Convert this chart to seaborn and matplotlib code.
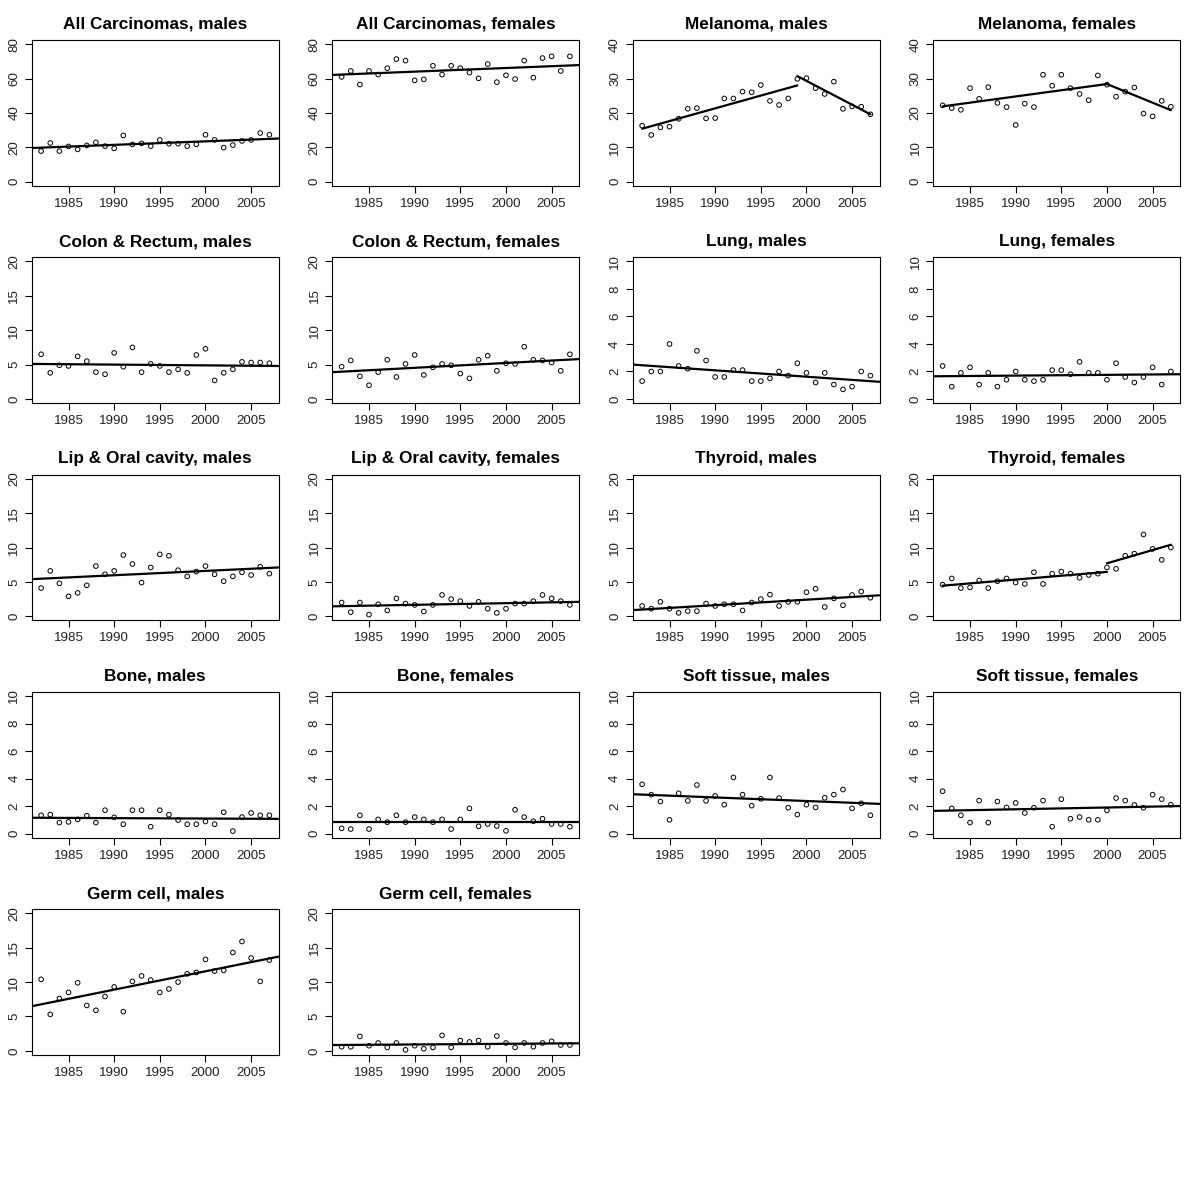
import matplotlib
matplotlib.use("Agg")
import matplotlib.pyplot as plt
import seaborn as sns
import pandas as pd

years = list(range(1982, 2008))

carc_m = [17.8, 22.5, 17.8, 20.5, 18.8, 21.1, 22.9, 20.7, 19.4, 26.9, 21.7, 22.3, 20.7,
          24.3, 22.1, 22.1, 20.7, 21.7, 27.3, 24.3, 19.8, 21.3, 23.7, 24.3, 28.3, 27.3]
carc_f = [60.9, 64.4, 56.5, 64.4, 62.3, 66.0, 71.3, 70.4, 58.9, 59.5, 67.4, 62.3, 67.4,
          66.0, 63.4, 60.1, 68.4, 57.9, 61.9, 59.7, 70.4, 60.5, 71.9, 72.9, 64.4, 72.9]
mel_m = [16.3, 13.6, 15.8, 16.0, 18.3, 21.2, 21.4, 18.4, 18.5, 24.2, 24.2, 26.2, 26.0,
         28.1, 23.5, 22.3, 24.2, 29.9, 30.1, 27.2, 25.5, 29.1, 21.2, 21.9, 21.8, 19.6]
mel_f = [22.2, 21.4, 20.9, 27.2, 24.1, 27.5, 22.9, 21.7, 16.5, 22.7, 21.7, 31.1, 27.9,
         31.1, 27.2, 25.5, 23.7, 30.9, 28.2, 24.7, 26.2, 27.4, 19.8, 19.0, 23.5, 21.8]
colon_m = [6.5, 3.8, 4.9, 4.8, 6.2, 5.5, 3.9, 3.6, 6.7, 4.7, 7.5, 3.9, 5.1,
           4.8, 3.9, 4.3, 3.8, 6.4, 7.3, 2.7, 3.8, 4.3, 5.4, 5.3, 5.3, 5.2]
colon_f = [4.7, 5.6, 3.3, 2.0, 3.9, 5.7, 3.2, 5.1, 6.4, 3.5, 4.6, 5.1, 4.9,
           3.7, 3.0, 5.7, 6.3, 4.1, 5.2, 5.1, 7.6, 5.7, 5.6, 5.3, 4.1, 6.5]
lung_m = [1.3, 2.0, 2.0, 4.0, 2.4, 2.2, 3.5, 2.8, 1.6, 1.6, 2.1, 2.1, 1.3,
          1.3, 1.5, 2.0, 1.7, 2.6, 1.9, 1.2, 1.9, 1.05, 0.7, 0.9, 2.0, 1.7]
lung_f = [2.4, 0.9, 1.9, 2.3, 1.05, 1.9, 0.9, 1.4, 2.0, 1.4, 1.3, 1.4, 2.1,
          2.1, 1.8, 2.7, 1.9, 1.9, 1.4, 2.6, 1.6, 1.2, 1.6, 2.3, 1.05, 2.0]
lip_m = [4.1, 6.6, 4.8, 2.9, 3.4, 4.5, 7.3, 6.1, 6.6, 8.9, 7.6, 4.9, 7.1,
         9.0, 8.8, 6.7, 5.8, 6.5, 7.3, 6.1, 5.1, 5.8, 6.4, 6.0, 7.2, 6.2]
lip_f = [2.0, 0.6, 2.0, 0.25, 1.75, 0.85, 2.6, 1.85, 1.65, 0.7, 1.65, 3.1, 2.5,
         2.2, 1.5, 2.1, 1.1, 0.5, 1.1, 1.85, 1.85, 2.2, 3.1, 2.6, 2.2, 1.65]
thyr_m = [1.5, 1.1, 2.1, 1.1, 0.5, 0.75, 0.75, 1.85, 1.5, 1.75, 1.75, 0.85, 2.0,
          2.5, 3.15, 1.5, 2.1, 2.1, 3.5, 4.0, 1.35, 2.6, 1.6, 3.1, 3.6, 2.7]
thyr_f = [4.6, 5.5, 4.1, 4.2, 5.2, 4.1, 5.1, 5.5, 4.9, 4.7, 6.4, 4.7, 6.2,
          6.5, 6.2, 5.6, 6.0, 6.2, 7.1, 6.9, 8.8, 9.1, 11.9, 9.8, 8.2, 10.0]
bone_m = [1.33, 1.38, 0.8, 0.85, 1.03, 1.3, 0.8, 1.7, 1.18, 0.68, 1.7, 1.7, 0.5,
          1.7, 1.38, 0.98, 0.68, 0.68, 0.88, 0.68, 1.55, 0.18, 1.2, 1.5, 1.33, 1.33]
bone_f = [0.38, 0.33, 1.33, 0.33, 1.03, 0.83, 1.33, 0.83, 1.2, 1.03, 0.83, 1.03, 0.33,
          1.03, 1.83, 0.53, 0.7, 0.55, 0.2, 1.73, 1.2, 0.9, 1.08, 0.7, 0.7, 0.5]
soft_m = [3.58, 2.83, 2.33, 1.0, 2.93, 2.38, 3.53, 2.38, 2.73, 2.1, 4.08, 2.83, 2.03,
          2.53, 4.08, 2.58, 1.88, 1.38, 2.1, 1.9, 2.6, 2.83, 3.2, 1.83, 2.2, 1.33]
soft_f = [3.08, 1.83, 1.33, 0.8, 2.4, 0.8, 2.33, 1.9, 2.23, 1.5, 1.88, 2.4, 0.5,
          2.5, 1.08, 1.2, 1.0, 1.0, 1.68, 2.58, 2.4, 2.08, 1.88, 2.83, 2.5, 2.1]
germ_m = [10.4, 5.3, 7.6, 8.5, 9.9, 6.6, 5.9, 7.9, 9.3, 5.7, 10.1, 10.9, 10.3,
          8.5, 9.0, 10.0, 11.2, 11.4, 13.3, 11.6, 11.7, 14.3, 15.9, 13.5, 10.1, 13.2]
germ_f = [0.6, 0.6, 2.1, 0.75, 1.15, 0.5, 1.15, 0.15, 0.75, 0.3, 0.5, 2.25, 0.5,
          1.5, 1.3, 1.5, 0.6, 2.15, 1.15, 0.5, 1.15, 0.6, 1.15, 1.4, 0.85, 0.85]

# fitted trends: segments of (year, rate)
carc_m_trend = [[(1981, 19.6), (2008, 25.1)]]
carc_f_trend = [[(1981, 62.1), (2008, 67.8)]]
mel_m_trend = [[(1982, 15.4), (1999, 28.0)], [(1999, 30.7), (2007, 19.6)]]
mel_f_trend = [[(1982, 21.9), (2000, 28.4), (2007, 20.8)]]
colon_m_trend = [[(1981, 5.1), (2008, 4.8)]]
colon_f_trend = [[(1981, 3.9), (2008, 5.8)]]
lung_m_trend = [[(1981, 2.5), (2008, 1.25)]]
lung_f_trend = [[(1981, 1.65), (2008, 1.8)]]
lip_m_trend = [[(1981, 5.4), (2008, 7.1)]]
lip_f_trend = [[(1981, 1.45), (2008, 2.1)]]
thyr_m_trend = [[(1981, 0.9), (2008, 3.05)]]
thyr_f_trend = [[(1982, 4.45), (2000, 6.45)], [(2000, 7.7), (2007, 10.4)]]
bone_m_trend = [[(1981, 1.15), (2008, 1.07)]]
bone_f_trend = [[(1981, 0.85), (2008, 0.85)]]
soft_m_trend = [[(1981, 2.86), (2008, 2.16)]]
soft_f_trend = [[(1981, 1.65), (2008, 2.0)]]
germ_m_trend = [[(1981, 6.5), (2008, 13.7)]]
germ_f_trend = [[(1981, 0.85), (2008, 1.1)]]

titles = ["All Carcinomas, males", "All Carcinomas, females", "Melanoma, males", "Melanoma, females",
          "Colon & Rectum, males", "Colon & Rectum, females", "Lung, males", "Lung, females",
          "Lip & Oral cavity, males", "Lip & Oral cavity, females", "Thyroid, males", "Thyroid, females",
          "Bone, males", "Bone, females", "Soft tissue, males", "Soft tissue, females",
          "Germ cell, males", "Germ cell, females"]
series = [carc_m, carc_f, mel_m, mel_f, colon_m, colon_f, lung_m, lung_f, lip_m, lip_f,
          thyr_m, thyr_f, bone_m, bone_f, soft_m, soft_f, germ_m, germ_f]
trends = [carc_m_trend, carc_f_trend, mel_m_trend, mel_f_trend, colon_m_trend, colon_f_trend,
          lung_m_trend, lung_f_trend, lip_m_trend, lip_f_trend, thyr_m_trend, thyr_f_trend,
          bone_m_trend, bone_f_trend, soft_m_trend, soft_f_trend, germ_m_trend, germ_f_trend]
y_max = [80, 80, 40, 40, 20, 20, 10, 10, 20, 20, 20, 20, 10, 10, 10, 10, 20, 20]
y_step = [20, 20, 10, 10, 5, 5, 2, 2, 5, 5, 5, 5, 2, 2, 2, 2, 5, 5]
x_ticks = [1985, 1990, 1995, 2000, 2005]

sns.set_style("ticks")
plt.rcParams["font.family"] = ["Liberation Sans", "DejaVu Sans"]

fig, axes = plt.subplots(5, 4, figsize=(12, 11.88), dpi=100)
fig.subplots_adjust(left=32 / 1200, right=1180 / 1200, top=1 - 40 / 1188,
                    bottom=1 - 1055 / 1188, wspace=0.219, hspace=0.49)

for i, ax in enumerate(axes.flat):
    if i >= len(titles):
        ax.axis("off")
        continue
    df = pd.DataFrame({"year": years, "rate": series[i]})
    sns.scatterplot(data=df, x="year", y="rate", ax=ax, marker="o", s=11,
                    facecolor="none", edgecolor="black", linewidth=0.7, zorder=3)
    for seg in trends[i]:
        seg_df = pd.DataFrame(seg, columns=["year", "rate"])
        sns.lineplot(data=seg_df, x="year", y="rate", ax=ax, color="black",
                     linewidth=1.6, estimator=None, sort=False)
    ym = y_max[i]
    ax.set_xlim(1981, 2008)
    ax.set_ylim(-0.03 * ym, 1.03 * ym)
    ax.set_xticks(x_ticks)
    ax.set_yticks(list(range(0, ym + 1, y_step[i])))
    ax.set_xlabel("")
    ax.set_ylabel("")
    ax.tick_params(direction="out", length=5, width=0.8, labelsize=9.6,
                   colors="black", labelcolor="#222222")
    for lab in ax.get_yticklabels():
        lab.set_rotation(90)
        lab.set_va("center")
    for sp in ax.spines.values():
        sp.set_color("black")
        sp.set_linewidth(0.8)
    ax.set_title(titles[i], fontsize=12.4, fontweight="bold", pad=8, color="black")

plt.savefig("out.png", dpi=100)
